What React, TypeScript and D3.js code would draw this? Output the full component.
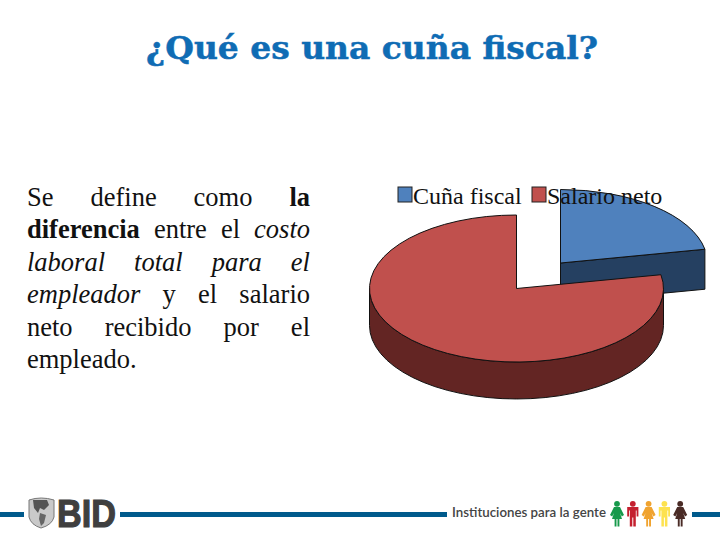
import { useEffect, useRef } from 'react';
import * as d3 from 'd3';

const categories = ['Cuña fiscal', 'Salario neto'];
const shares = [22, 78];
const topColors = ['#4f81bd', '#c0504d'];
const wallColors = ['#254061', '#632523'];

const titleText = '¿Qué es una cuña fiscal?';
const footerText = 'Instituciones para la gente';

type Run = { t: string; b?: boolean; i?: boolean };
const bodyLines: Run[][] = [
  [{ t: 'Se define como ' }, { t: 'la', b: true }],
  [{ t: 'diferencia', b: true }, { t: ' entre el ' }, { t: 'costo', i: true }],
  [{ t: 'laboral total para el', i: true }],
  [{ t: 'empleador', i: true }, { t: ' y el salario' }],
  [{ t: 'neto recibido por el' }],
  [{ t: 'empleado.' }],
];

const peopleColors = ['#17994b', '#c4202f', '#f0a32f', '#fde24f', '#4a2b26'];
const peopleKinds = ['f', 'm', 'f', 'm', 'f'];

const RX = 147;
const RY = 73.5;
const DEPTH = 37;
const BLUE_DEPTH = 40;
const RED_CENTER: [number, number] = [516.5, 288.5];
const BLUE_CENTER: [number, number] = [560.5, 263];
const BODY_LEFT = 27;
const BODY_WIDTH = 283;

function pt(c: [number, number], a: number, dy = 0) {
  return [c[0] + RX * Math.sin(a), c[1] - RY * Math.cos(a) + dy];
}

function topPath(c: [number, number], a0: number, a1: number) {
  const p0 = pt(c, a0);
  const p1 = pt(c, a1);
  const large = a1 - a0 > Math.PI ? 1 : 0;
  return `M${c[0]},${c[1]}L${p0[0]},${p0[1]}A${RX},${RY} 0 ${large} 1 ${p1[0]},${p1[1]}Z`;
}

function rimPath(c: [number, number], a0: number, a1: number) {
  const p0 = pt(c, a0);
  const p1 = pt(c, a1);
  const q0 = pt(c, a0, DEPTH);
  const q1 = pt(c, a1, DEPTH);
  return `M${p0[0]},${p0[1]}A${RX},${RY} 0 0 1 ${p1[0]},${p1[1]}L${q1[0]},${q1[1]}A${RX},${RY} 0 0 0 ${q0[0]},${q0[1]}Z`;
}

function cutPath(c: [number, number], a: number) {
  const p = pt(c, a);
  const q = pt(c, a, BLUE_DEPTH);
  return `M${c[0]},${c[1]}L${p[0]},${p[1]}L${q[0]},${q[1]}L${c[0]},${c[1] + BLUE_DEPTH}Z`;
}

function Person({ x, color, kind }: { x: number; color: string; kind: string }) {
  return (
    <g transform={`translate(${x},501)`} fill={color}>
      <circle cx={0} cy={2.8} r={2.9} />
      {kind === 'f' ? (
        <path d="M-3,6L3,6L7,14L4.8,15.5L3,12L5,18L2.4,18L2.4,25.5L0.5,25.5L0.5,18L-0.5,18L-0.5,25.5L-2.4,25.5L-2.4,18L-5,18L-3,12L-4.8,15.5L-7,14Z" />
      ) : (
        <path d="M-5.6,6L5.6,6L5.6,15.5L3.8,15.5L3.8,9.5L3,9.5L3,25.5L0.5,25.5L0.5,16.5L-0.5,16.5L-0.5,25.5L-3,25.5L-3,9.5L-3.8,9.5L-3.8,15.5L-5.6,15.5Z" />
      )}
    </g>
  );
}

export default function App() {
  const bodyRef = useRef<SVGGElement>(null);

  const slices = d3.pie<number>().sort(null)(shares);
  const blue = slices[0];
  const red = slices[1];

  // Justify the paragraph: spread the spaces of each line but the last
  useEffect(() => {
    if (!bodyRef.current) return;
    d3.select(bodyRef.current)
      .selectAll<SVGTextElement, Run[]>('text')
      .each(function (_, i) {
        if (i === bodyLines.length - 1) return;
        const gaps = (this.textContent || '').split(' ').length - 1;
        const extra = (BODY_WIDTH - this.getComputedTextLength()) / gaps;
        this.style.wordSpacing = extra + 'px';
      });
  }, []);

  return (
    <svg
      width={720}
      height={540}
      viewBox="0 0 720 540"
      style={{ position: 'absolute', left: 0, top: 0, background: '#fff' }}
    >
      <text
        x={146}
        y={59}
        fontFamily="DejaVu Serif"
        fontWeight="bold"
        fontSize={32}
        fill="#0f6cb4"
        stroke="#0f6cb4"
        strokeWidth={0.5}
        textLength={452}
        lengthAdjust="spacingAndGlyphs"
      >
        {titleText}
      </text>

      <g ref={bodyRef} fontFamily="Liberation Serif" fontSize={26.5} fill="#111">
        {bodyLines.map((line, i) => (
          <text key={i} x={BODY_LEFT} y={206 + i * 32.4} xmlSpace="preserve">
            {line.map((r, j) => (
              <tspan key={j} fontWeight={r.b ? 'bold' : 'normal'} fontStyle={r.i ? 'italic' : 'normal'}>
                {r.t}
              </tspan>
            ))}
          </text>
        ))}
      </g>

      <g stroke="#111" strokeWidth={1}>
        <path d={cutPath(BLUE_CENTER, blue.endAngle)} fill={wallColors[0]} />
        <path d={topPath(BLUE_CENTER, blue.startAngle, blue.endAngle)} fill={topColors[0]} />
        <path d={rimPath(RED_CENTER, Math.PI / 2, (3 * Math.PI) / 2)} fill={wallColors[1]} />
        <path d={topPath(RED_CENTER, red.startAngle, red.endAngle)} fill={topColors[1]} />
      </g>

      <g fontFamily="Liberation Serif" fontSize={24} fill="#111">
        {categories.map((c, i) => {
          const x = i === 0 ? 398 : 532;
          return (
            <g key={c}>
              <rect x={x} y={187} width={14} height={15} fill={topColors[i]} stroke="#222" />
              <text x={x + 15} y={204}>
                {c}
              </text>
            </g>
          );
        })}
      </g>

      <g fill="#005a8c">
        <rect x={0} y={512} width={24} height={5} />
        <rect x={120} y={512} width={327} height={5} />
        <rect x={692} y={512} width={28} height={5} />
      </g>

      <g>
        <path d="M29,500Q41,496 54,500L54,517Q52,525 41,528Q31,525 29,517Z" fill="#c9c9c9" stroke="#777" />
        <path d="M33,500L47,500L49,505L44,510L40,508L38,513L34,508Z" fill="#555" />
        <path d="M40,513L46,515L44,523L41,526L39,519Z" fill="#666" />
        <text
          x={57}
          y={527}
          fontFamily="Liberation Sans"
          fontWeight="bold"
          fontSize={39}
          fill="#3f3f3f"
          stroke="#3f3f3f"
          strokeWidth={1.2}
          textLength={59}
          lengthAdjust="spacingAndGlyphs"
        >
          BID
        </text>
      </g>

      <text x={452} y={517} fontFamily="Lato" fontWeight={600} fontSize={13} fill="#444" textLength={154} lengthAdjust="spacingAndGlyphs">
        {footerText}
      </text>
      {peopleColors.map((c, i) => (
        <Person key={i} x={617 + i * 15.8} color={c} kind={peopleKinds[i]} />
      ))}
    </svg>
  );
}
